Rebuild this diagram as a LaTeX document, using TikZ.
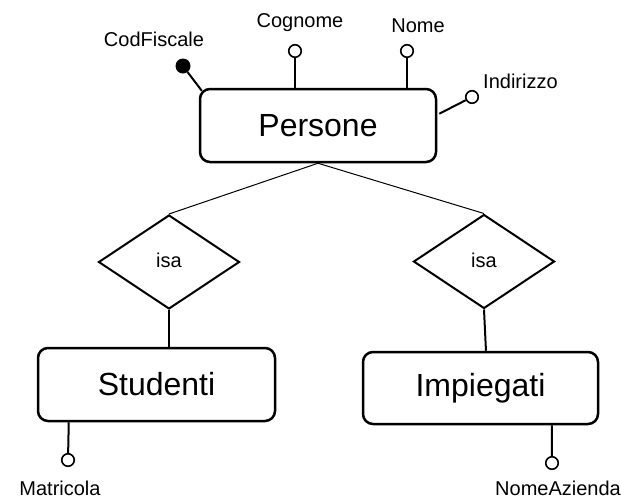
\documentclass[tikz,border=0pt]{standalone}
\usepackage{fontspec}
\setmainfont{Liberation Sans}
\usetikzlibrary{shapes.geometric,calc}
\begin{document}
\begin{tikzpicture}[x=1pt,y=-1pt,
  entity/.style={draw, rounded corners=10pt, line width=2.5pt, minimum width=236pt,
    minimum height=73pt, inner sep=0pt, font=\fontsize{32}{36}\selectfont},
  isarel/.style={draw, diamond, line width=2pt, minimum width=141pt, minimum height=94pt,
    inner sep=0pt, font=\fontsize{20}{22}\selectfont},
  attr/.style={draw, circle, line width=1.6pt, minimum size=12.5pt, inner sep=0pt, fill=white},
  keyattr/.style={circle, fill=black, minimum size=15pt, inner sep=0pt},
  attrlabel/.style={font=\fontsize{20}{22}\selectfont, inner sep=0pt, anchor=base},
  attrline/.style={line width=2pt},
  isaline/.style={line width=1pt}
]
\useasboundingbox (0,0) rectangle (621,499);

% entities
\node[entity] (P) at (318,125.5) {Persone};
\node[entity, minimum width=237pt] (S) at (156.5,384.5) {Studenti};
\node[entity, minimum width=235pt, minimum height=72pt] (I) at (480.5,388) {Impiegati};

% generalisations
\node[isarel] (isaL) at (169,262) {\raisebox{3pt}{isa}};
\node[isarel] (isaR) at (484,261.5) {\raisebox{3pt}{isa}};

\draw[isaline] (P.south) -- (isaL.north);
\draw[isaline] (P.south) -- (isaR.north);
\draw[attrline] (isaL.south) -- (isaL.south |- S.north);
\coordinate (iTop) at ($(I.north west)!0.523!(I.north east)$);
\draw[attrline] (isaR.south) -- (iTop);

% attributes of Persone
\node[keyattr] (cf) at (183,66) {};
\node[attr] (cg) at (295,51) {};
\node[attr] (nm) at (407,51) {};
\node[attr] (ind) at (472,97) {};

\coordinate (cfA) at ($(P.north west)+(3,3)$);
\coordinate (cgA) at (P.north -| cg);
\coordinate (nmA) at (P.north -| nm);
\coordinate (indA) at ($(P.north east)+(2,26)$);

\draw[attrline] (cfA) -- (cf);
\draw[attrline] (cgA) -- (cg);
\draw[attrline] (nmA) -- (nm);
\draw[attrline] (indA) -- (ind);

\node[attrlabel] (cfL) at (154,46) {CodFiscale};
\node[attrlabel] (cgL) at (300,27) {Cognome};
\node[attrlabel] (nmL) at (418,32) {Nome};
\node[attrlabel, anchor=base west] (indL) at (483,88) {Indirizzo};

% attributes of the subclasses
\node[attr] (mat) at (68,460) {};
\node[attr] (naz) at (552,463) {};
\coordinate (matA) at ($(S.south west)+(32,0)$);
\coordinate (nazA) at ($(I.south west)+(190,0)$);
\draw[attrline] (matA) -- (mat);
\draw[attrline] (nazA) -- (naz);

\node[attrlabel] (matL) at (60,495) {Matricola};
\node[attrlabel] (nazL) at (558,495) {NomeAzienda};
\end{tikzpicture}
\end{document}
